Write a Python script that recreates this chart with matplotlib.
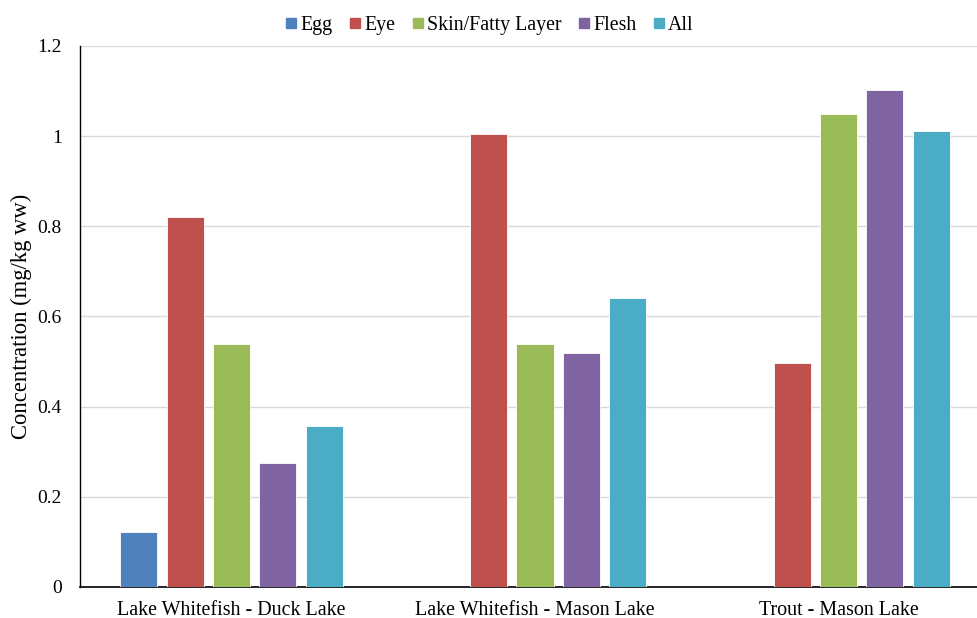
import numpy as np
import matplotlib.pyplot as plt
from matplotlib.lines import Line2D

# data
groups = ["Lake Whitefish - Duck Lake", "Lake Whitefish - Mason Lake", "Trout - Mason Lake"]
series = ["Egg", "Eye", "Skin/Fatty Layer", "Flesh", "All"]
egg = [0.122, 0.0, 0.0]
eye = [0.821, 1.004, 0.496]
skin = [0.539, 0.539, 1.049]
flesh = [0.275, 0.518, 1.103]
all_parts = [0.358, 0.642, 1.011]
yticks = [0, 0.2, 0.4, 0.6, 0.8, 1, 1.2]
ytick_labels = ["0", "0.2", "0.4", "0.6", "0.8", "1", "1.2"]

colors = ["#4F81BD", "#C0504D", "#9BBB59", "#8064A2", "#4BACC6"]

plt.rcParams['font.family'] = ['Liberation Serif', 'DejaVu Serif']

fig = plt.figure(figsize=(9.77, 6.18), dpi=100)
# axes runs a little past the right edge, like the reference
ax = fig.add_axes([0.0816, 0.0502, 0.932, 0.8754])

x = np.arange(len(groups))
step = 0.153
width = 0.122
values = [egg, eye, skin, flesh, all_parts]
for i, (name, vals) in enumerate(zip(series, values)):
    offs = (i - 2) * step
    ax.bar(x + offs, vals, width=width, color=colors[i], edgecolor="white",
           linewidth=0.6, label=name, zorder=3)

ax.set_xlim(-0.5, 2.5)
ax.set_ylim(0, 1.2)
ax.set_yticks(yticks)
ax.set_yticklabels(ytick_labels)
ax.set_xticks(x)
ax.set_xticklabels(groups)
ax.tick_params(axis="both", length=0, colors="black")
ax.tick_params(axis="y", pad=13, labelsize=14)
ax.tick_params(axis="x", pad=10, labelsize=14.4)
ax.grid(axis="y", color="#d9d9d9", linewidth=1, zorder=0)
for s in ["top", "right"]:
    ax.spines[s].set_visible(False)
ax.spines["left"].set_color("black")
ax.spines["bottom"].set_color("black")
ax.spines["left"].set_linewidth(1)
ax.spines["bottom"].set_linewidth(1.2)
ax.set_ylabel("Concentration (mg/kg ww)", fontsize=16.3, labelpad=4)

handles = [Line2D([0], [0], marker="s", linestyle="", markersize=7.5,
                  markerfacecolor=c, markeredgecolor=c) for c in colors]
fig.legend(handles, series, loc="center", bbox_to_anchor=(0.5, 0.959), ncol=5,
           frameon=False, fontsize=14.3, handletextpad=0.05, columnspacing=0.75,
           handlelength=0.8)

fig.savefig("out.png", dpi=100)
